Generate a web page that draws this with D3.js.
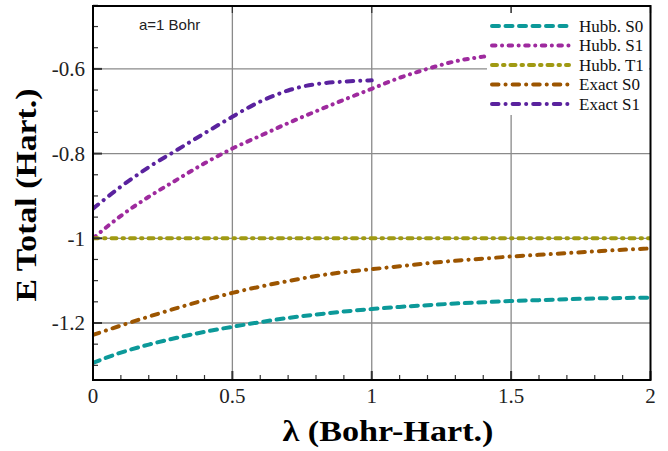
<!DOCTYPE html>
<html><head><meta charset="utf-8">
<script src="https://cdn.jsdelivr.net/npm/d3@7"></script>
<style>html,body{margin:0;padding:0;background:#fff;}svg{display:block;}</style>
</head><body>
<svg id="c" width="668" height="451"></svg>
<script>
// ---- data ----
const lambdaA = [0,0.1,0.2,0.3,0.4,0.5,0.6,0.7,0.8,0.9,1.0,1.1,1.2,1.3,1.4,1.5,1.6,1.7,1.8,1.9,2.0];
const hubbS0 = [-1.294,-1.270,-1.251,-1.235,-1.221,-1.209,-1.198,-1.188,-1.180,-1.173,-1.167,-1.162,-1.158,-1.154,-1.151,-1.148,-1.146,-1.144,-1.142,-1.141,-1.140];
const exactS0 = [-1.228,-1.206,-1.185,-1.165,-1.146,-1.129,-1.114,-1.101,-1.089,-1.080,-1.073,-1.066,-1.059,-1.053,-1.048,-1.043,-1.039,-1.035,-1.031,-1.027,-1.024];
const hubbT1 = [-1,-1,-1,-1,-1,-1,-1,-1,-1,-1,-1,-1,-1,-1,-1,-1,-1,-1,-1,-1,-1];
const lambdaS1 = [0,0.1,0.2,0.3,0.4,0.5,0.6,0.7,0.8,0.9,1.0,1.1,1.2,1.3,1.4,1.45];
const hubbS1 = [-1.0,-0.947,-0.902,-0.862,-0.823,-0.788,-0.758,-0.728,-0.700,-0.673,-0.647,-0.621,-0.600,-0.582,-0.571,-0.566];
const lambdaE1 = [0,0.1,0.2,0.3,0.4,0.5,0.55,0.6,0.65,0.7,0.75,0.8,0.9,1.0];
const exactS1 = [-0.930,-0.878,-0.832,-0.792,-0.752,-0.713,-0.694,-0.677,-0.663,-0.651,-0.642,-0.636,-0.630,-0.627];
const seriesNames = ["Hubb. S0","Hubb. S1","Hubb. T1","Exact S0","Exact S1"];
const xMajor = [0,0.5,1,1.5,2];
const xMajorLabels = ["0","0.5","1","1.5","2"];
const yMajor = [-1.2,-1,-0.8,-0.6];
const yMajorLabels = ["-1.2","-1","-0.8","-0.6"];

// ---- styles ----
const styles = [
  {color:"#0c9999", dash:"7,6.5"},
  {color:"#9e2a9e", dash:"3.5,6.5,0.1,6.5"},
  {color:"#a09a12", dash:"5,6,1.5,6"},
  {color:"#9c5500", dash:"6.5,7,0.1,7"},
  {color:"#5a229e", dash:"6.5,7,0.1,7"}
];
const seriesData = [
  lambdaA.map((x,i)=>[x,hubbS0[i]]),
  lambdaS1.map((x,i)=>[x,hubbS1[i]]),
  lambdaA.map((x,i)=>[x,hubbT1[i]]),
  lambdaA.map((x,i)=>[x,exactS0[i]]),
  lambdaE1.map((x,i)=>[x,exactS1[i]])
];

const L=93, R=650.5, T=6, B=380;
const x = d3.scaleLinear().domain([0,2]).range([L,R]);
const y = d3.scaleLinear().domain([-1.3346,-0.4515]).range([B,T]);
const svg = d3.select("#c");

svg.append("defs").append("clipPath").attr("id","pc").append("rect")
  .attr("x",L).attr("y",T).attr("width",R-L).attr("height",B-T);

// grid
const g = svg.append("g");
g.selectAll("line.gx").data([0.5,1,1.5]).enter().append("line")
  .attr("x1",d=>x(d)).attr("x2",d=>x(d)).attr("y1",T).attr("y2",B)
  .attr("stroke","#8a8a8a").attr("stroke-width",1.3);
g.selectAll("line.gy").data(yMajor).enter().append("line")
  .attr("x1",L).attr("x2",R).attr("y1",d=>y(d)).attr("y2",d=>y(d))
  .attr("stroke","#8a8a8a").attr("stroke-width",1.3);

// lines
const line = d3.line().x(d=>x(d[0])).y(d=>y(d[1])).curve(d3.curveMonotoneX);
const lg = svg.append("g").attr("clip-path","url(#pc)");
seriesData.forEach((d,i)=>{
  lg.append("path").datum(d).attr("d",line).attr("fill","none")
    .attr("stroke",styles[i].color).attr("stroke-width",4)
    .attr("stroke-linecap","round").attr("stroke-dasharray",styles[i].dash);
});

// legend
const leg = svg.append("g");
leg.append("rect").attr("x",487).attr("y",13).attr("width",162).attr("height",102).attr("fill","#fff");
const rowY = [26,45.5,65,84.5,104];
seriesNames.forEach((n,i)=>{
  leg.append("line").attr("x1",492).attr("x2",569).attr("y1",rowY[i]).attr("y2",rowY[i])
    .attr("stroke",styles[i].color).attr("stroke-width",4)
    .attr("stroke-linecap","round").attr("stroke-dasharray",styles[i].dash);
  leg.append("text").attr("x",579).attr("y",rowY[i]+5.5).text(n)
    .attr("font-family","'Liberation Serif', serif").attr("font-size",17).attr("fill","#111");
});

// annotation
svg.append("text").attr("x",139).attr("y",30).text("a=1 Bohr")
  .attr("font-family","'Liberation Sans', Arial, sans-serif").attr("font-size",15).attr("fill","#222");

// ticks (inward)
const ax = svg.append("g");
const xMinor = d3.range(0,2.0001,0.1).filter(v=>Math.abs(v*2-Math.round(v*2))>1e-6);
ax.selectAll("line.xm").data(xMinor).enter().append("line")
  .attr("x1",d=>x(d)).attr("x2",d=>x(d)).attr("y1",B).attr("y2",B-5)
  .attr("stroke","#333").attr("stroke-width",1.2);
ax.selectAll("line.xM").data(xMajor).enter().append("line")
  .attr("x1",d=>x(d)).attr("x2",d=>x(d)).attr("y1",B).attr("y2",B-9)
  .attr("stroke","#333").attr("stroke-width",2);
ax.selectAll("line.xT").data(xMajor).enter().append("line")
  .attr("x1",d=>x(d)).attr("x2",d=>x(d)).attr("y1",T).attr("y2",T+7)
  .attr("stroke","#333").attr("stroke-width",1.3);
const yMinor = d3.range(-1.3,-0.449,0.05).map(v=>+v.toFixed(2)).filter(v=>Math.abs(v*5-Math.round(v*5))>1e-6);
ax.selectAll("line.ym").data(yMinor).enter().append("line")
  .attr("x1",L).attr("x2",L+5).attr("y1",d=>y(d)).attr("y2",d=>y(d))
  .attr("stroke","#333").attr("stroke-width",1.2);
ax.selectAll("line.yM").data(yMajor).enter().append("line")
  .attr("x1",L).attr("x2",L+9).attr("y1",d=>y(d)).attr("y2",d=>y(d))
  .attr("stroke","#333").attr("stroke-width",2);

// frame
svg.append("rect").attr("x",L).attr("y",T).attr("width",R-L).attr("height",B-T)
  .attr("fill","none").attr("stroke","#000").attr("stroke-width",2);

// tick labels
const tf = "'Liberation Serif', 'Times New Roman', serif";
ax.selectAll("text.xl").data(xMajor).enter().append("text")
  .attr("x",d=>x(d)).attr("y",403).attr("text-anchor","middle")
  .attr("font-family",tf).attr("font-size",21).attr("fill","#222")
  .text((d,i)=>xMajorLabels[i]);
ax.selectAll("text.yl").data(yMajor).enter().append("text")
  .attr("x",85).attr("y",d=>y(d)+7.5).attr("text-anchor","end")
  .attr("font-family",tf).attr("font-size",21).attr("fill","#222")
  .text((d,i)=>yMajorLabels[i]);

// axis titles
svg.append("text").attr("x",388).attr("y",441).attr("text-anchor","middle")
  .attr("font-family",tf).attr("font-size",30).attr("font-weight","bold").attr("fill","#000")
  .attr("textLength",211).attr("lengthAdjust","spacingAndGlyphs")
  .text("λ (Bohr-Hart.)");
svg.append("text").attr("transform","translate(36,195) rotate(-90)").attr("text-anchor","middle")
  .attr("font-family",tf).attr("font-size",30).attr("font-weight","bold").attr("fill","#000")
  .attr("textLength",213).attr("lengthAdjust","spacingAndGlyphs")
  .text("E Total (Hart.)");
</script>
</body></html>
